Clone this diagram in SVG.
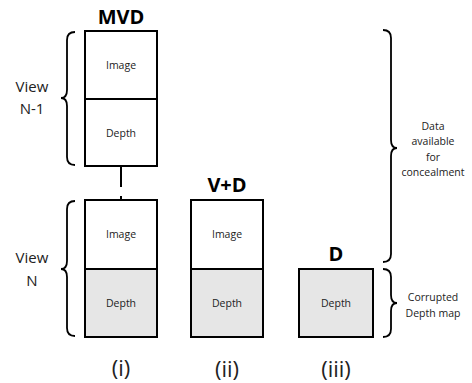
<svg xmlns="http://www.w3.org/2000/svg" width="472" height="383" viewBox="0 0 472 383">
<style>
.box{fill:#fff;stroke:#000;stroke-width:2}
.grey{fill:#e6e6e6;stroke:#000;stroke-width:2}
.brace{fill:none;stroke:#000;stroke-width:1.8}
.t{font-family:"Open Sans","Liberation Sans",sans-serif;font-size:10.5px;text-anchor:middle;fill:#222}
.lbl{font-family:"Open Sans","Liberation Sans",sans-serif;font-size:15px;text-anchor:middle;fill:#222}
.title{font-family:"Open Sans","Liberation Sans",sans-serif;font-size:20px;font-weight:bold;text-anchor:middle;fill:#000}
.num{font-family:"Open Sans","Liberation Sans",sans-serif;font-size:22px;text-anchor:middle;fill:#222}
.side{font-family:"Open Sans","Liberation Sans",sans-serif;font-size:10.5px;text-anchor:middle;fill:#222}
</style>
<rect width="472" height="383" fill="#fff"/>
<g id="connectors">
<line x1="121" y1="166" x2="121" y2="200" stroke="#000" stroke-width="2" stroke-dasharray="21 9"/>
</g>
<g id="mvd">
<text class="title" x="121" y="24">MVD</text>
<rect class="box" x="85" y="31" width="72" height="68"/>
<text class="t" x="121" y="69">Image</text>
<rect class="box" x="85" y="99" width="72" height="67"/>
<text class="t" x="121" y="137">Depth</text>
<rect class="box" x="85" y="200" width="72" height="69"/>
<text class="t" x="121" y="238">Image</text>
<rect class="grey" x="85" y="269" width="72" height="68"/>
<text class="t" x="121" y="307">Depth</text>
<text class="num" x="121" y="376">(i)</text>
</g>
<g id="vd">
<text class="title" x="227" y="192">V+D</text>
<rect class="box" x="191" y="200" width="72" height="69"/>
<text class="t" x="227" y="238">Image</text>
<rect class="grey" x="191" y="269" width="72" height="68"/>
<text class="t" x="227" y="307">Depth</text>
<text class="num" x="227" y="377">(ii)</text>
</g>
<g id="d">
<text class="title" x="336" y="261">D</text>
<rect class="grey" x="299" y="269" width="74" height="68"/>
<text class="t" x="336" y="307">Depth</text>
<text class="num" x="336" y="377">(iii)</text>
</g>
<g id="view-n-1">
<path class="brace" d="M75,32 Q67,32 67,40 L67,90 Q67,98 61,98 Q67,98 67,106 L67,157 Q67,165 75,165"/>
<text class="lbl" x="32" y="92">View</text>
<text class="lbl" x="32" y="114">N-1</text>
</g>
<g id="view-n">
<path class="brace" d="M75,201 Q67,201 67,209 L67,261 Q67,269 61,269 Q67,269 67,277 L67,328 Q67,336 75,336"/>
<text class="lbl" x="32" y="263">View</text>
<text class="lbl" x="32" y="286">N</text>
</g>
<g id="data-available">
<path class="brace" d="M383,30 Q391,30 391,38 L391,140 Q391,148 397,148 Q391,148 391,156 L391,254 Q391,262 383,262"/>
<text class="side" x="433" y="130">Data</text>
<text class="side" x="433" y="145">available</text>
<text class="side" x="433" y="161">for</text>
<text class="side" x="433" y="176">concealment</text>
</g>
<g id="corrupted">
<path class="brace" d="M383,269 Q391,269 391,277 L391,295 Q391,303 397,303 Q391,303 391,311 L391,329 Q391,337 383,337"/>
<text class="side" x="433" y="301">Corrupted</text>
<text class="side" x="433" y="317">Depth map</text>
</g>
</svg>
